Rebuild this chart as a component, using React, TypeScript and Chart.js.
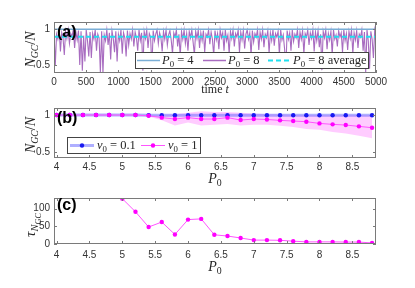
import React, { useEffect, useRef } from "react";
import { Chart, registerables } from "chart.js";
Chart.register(...registerables);

// ---------- DATA ----------
const T_STEP = 20; // time between samples of the P0 = 8 series
const P8_SERIES = [
  0.97, 0.50, 0.93, 0.86, 0.99, 0.69, 0.95, 0.88, 0.64, 0.97,
  0.87, 0.99, 0.80, 0.94, 0.90, 0.99, 0.74, 0.96, 0.85, 0.98,
  0.50, 0.97, 0.42, 0.91, 0.55, 0.99, 0.84, 0.62, 0.96, 0.60,
  0.94, 0.86, 0.99, 0.70, 0.93, 0.88, 0.40, 0.97, 0.38, 0.92,
  0.84, 0.99, 0.78, 0.95, 0.58, 0.98, 0.87, 0.68, 0.97, 0.55,
  0.93, 0.84, 0.99, 0.66, 0.95, 0.88, 0.62, 0.98, 0.78, 0.94,
  0.86, 0.99, 0.76, 0.96, 0.88, 0.70, 0.99, 0.84, 0.95, 0.42,
  0.97, 0.87, 0.99, 0.74, 0.94, 0.89, 0.45, 0.98, 0.84, 0.93,
  0.99, 0.80, 0.95, 0.88, 0.69, 0.97, 0.86, 0.99, 0.78, 0.92,
  0.98, 0.85, 0.66, 0.95, 0.89, 0.99, 0.76, 0.93, 0.62, 0.97,
  0.86, 0.99, 0.80, 0.94, 0.70, 0.97, 0.88, 0.99, 0.82, 0.64,
  0.97, 0.87, 0.99, 0.74, 0.95, 0.84, 0.98, 0.68, 0.93, 0.89,
  0.99, 0.79, 0.96, 0.86, 0.63, 0.98, 0.85, 0.94, 0.72, 0.99,
  0.88, 0.95, 0.70, 0.99, 0.84, 0.92, 0.66, 0.97, 0.87, 0.99,
  0.76, 0.94, 0.89, 0.99, 0.68, 0.96, 0.85, 0.98, 0.73, 0.93,
  0.99, 0.86, 0.95, 0.63, 0.98, 0.82, 0.94, 0.89, 0.99, 0.71,
  0.96, 0.86, 0.99, 0.75, 0.93, 0.88, 0.98, 0.67, 0.95, 0.84,
  0.99, 0.77, 0.94, 0.89, 0.97, 0.64, 0.99, 0.85, 0.92, 0.73,
  0.44, 0.98, 0.86, 0.95, 0.70, 0.99, 0.83, 0.93, 0.88, 0.99,
  0.74, 0.96, 0.86, 0.98, 0.66, 0.94, 0.89, 0.99, 0.78, 0.95,
  0.87, 0.99, 0.69, 0.96, 0.84, 0.98, 0.75, 0.93, 0.43, 0.97,
  0.88, 0.99, 0.72, 0.94, 0.85, 0.97, 0.64, 0.99, 0.86, 0.92,
  0.76, 0.98, 0.89, 0.95, 0.68, 0.99, 0.84, 0.94, 0.71, 0.97,
  0.87, 0.99, 0.66, 0.95, 0.85, 0.98, 0.74, 0.93, 0.89, 0.99,
  0.70, 0.96, 0.40, 0.99, 0.84, 0.45, 0.97, 0.86, 0.60, 0.99,
  0.90,
];
const P4_TIMES = [0, 5000];
const P4_SERIES = [1, 1];
const P8_AVERAGE = 0.893;
const TIME_TICKS = [0, 500, 1000, 1500, 2000, 2500, 3000, 3500, 4000, 4500, 5000];
const FRAC_TICKS = [0.5, 1];

const P0_VALUES = [4.0, 4.2, 4.4, 4.6, 4.8, 5.0, 5.2, 5.4, 5.6, 5.8, 6.0, 6.2, 6.4, 6.6, 6.8, 7.0, 7.2, 7.4, 7.6, 7.8, 8.0, 8.2, 8.4, 8.6, 8.8];
const V01_MEAN = [1, 1, 1, 1, 1, 1, 1, 0.997, 0.997, 0.997, 0.997, 0.997, 0.997, 0.997, 0.997, 0.997, 0.997, 0.997, 0.997, 0.997, 0.997, 0.997, 0.997, 0.997, 0.997];
const V1_MEAN = [1, 1, 1, 1, 1, 1, 1, 0.99, 0.965, 0.946, 0.965, 0.946, 0.946, 0.965, 0.932, 0.946, 0.94, 0.928, 0.919, 0.91, 0.887, 0.874, 0.865, 0.847, 0.829];
const V1_UPPER = [1, 1, 1, 1, 1, 1, 1, 1.0, 1.0, 1.01, 1.03, 1.05, 1.04, 1.04, 1.03, 1.02, 1.01, 1.01, 1.0, 1.0, 1.0, 1.0, 1.0, 1.0, 1.0];
const V1_LOWER = [1, 1, 1, 1, 1, 1, 1, 0.98, 0.93, 0.86, 0.9, 0.86, 0.87, 0.88, 0.86, 0.87, 0.87, 0.855, 0.84, 0.81, 0.8, 0.77, 0.75, 0.72, 0.685];
const TAU_NGC = [null, null, null, null, null, 128, 91, 48, 62, 27, 69, 71, 26, 22.5, 17, 11, 11, 10.5, 8, 6, 6, 6, 5.5, 5.5, 3];
const P0_TICKS = [4, 4.5, 5, 5.5, 6, 6.5, 7, 7.5, 8, 8.5];
const TAU_TICKS = [0, 50, 100];

// ---------- STYLE ----------
const SANS = '"Liberation Sans", Arial, Helvetica, sans-serif';
const SERIF = '"Liberation Serif", "DejaVu Serif", "Times New Roman", serif';
const PURPLE = "rgb(168,108,192)";
const LBLUE = "#7aaed6";
const CYAN = "#1fe0f0";
const BLUE_LINE = "rgba(110,110,255,0.55)";
const BLUE_PT = "#1818f0";
const MAG = "#ff00ff";
const MAG_LINE = "#ff55ff";
const BAND = "rgba(255,0,255,0.2)";
const AXIS = "#7a7a7a";
const TEXT = "#262626";

type Seg = { t: string; it?: boolean; lvl?: number };
function segFont(s: Seg, size: number) {
  const sz = s.lvl === 1 ? size * 0.7 : s.lvl === 2 ? size * 0.55 : size;
  return `${s.it ? "italic " : ""}${sz}px ${SERIF}`;
}
function segDy(s: Seg, size: number) {
  return s.lvl === 1 ? size * 0.22 : s.lvl === 2 ? size * 0.4 : 0;
}
function richWidth(ctx: CanvasRenderingContext2D, segs: Seg[], size: number) {
  let w = 0;
  for (const s of segs) {
    ctx.font = segFont(s, size);
    w += ctx.measureText(s.t).width;
  }
  return w;
}
function drawRich(ctx: CanvasRenderingContext2D, segs: Seg[], x: number, cy: number, size: number, center: boolean) {
  let cx = center ? x - richWidth(ctx, segs, size) / 2 : x;
  const base = cy + size * 0.33;
  ctx.textAlign = "left";
  ctx.textBaseline = "alphabetic";
  ctx.fillStyle = TEXT;
  for (const s of segs) {
    ctx.font = segFont(s, size);
    ctx.fillText(s.t, cx, base + segDy(s, size));
    cx += ctx.measureText(s.t).width;
  }
}
function drawRotated(ctx: CanvasRenderingContext2D, segs: Seg[], x: number, cy: number, size: number) {
  ctx.save();
  ctx.translate(x, cy);
  ctx.rotate(-Math.PI / 2);
  drawRich(ctx, segs, 0, 0, size, true);
  ctx.restore();
}
function panelLabel(ctx: CanvasRenderingContext2D, label: string, x: number, baseline: number) {
  ctx.save();
  ctx.font = `bold 16px ${SANS}`;
  ctx.fillStyle = "#000";
  ctx.textAlign = "left";
  ctx.textBaseline = "alphabetic";
  ctx.fillText(label, x, baseline);
  ctx.restore();
}

const NGC_TITLE: Seg[] = [{ t: "N", it: true }, { t: "GC", it: true, lvl: 1 }, { t: "/" }, { t: "N", it: true }];
const P0_TITLE: Seg[] = [{ t: "P", it: true }, { t: "0", lvl: 1 }];
const TAU_TITLE: Seg[] = [{ t: "τ", it: true }, { t: "N", it: true, lvl: 1 }, { t: "GC", it: true, lvl: 2 }];

const boxTicks = {
  id: "boxTicks",
  afterDatasetsDraw(chart: any) {
    const { ctx, chartArea: a, scales } = chart;
    const L = 3;
    ctx.save();
    ctx.strokeStyle = AXIS;
    ctx.lineWidth = 1;
    ctx.beginPath();
    for (const t of scales.x.ticks) {
      const px = Math.round(scales.x.getPixelForValue(t.value)) + 0.5;
      ctx.moveTo(px, a.bottom);
      ctx.lineTo(px, a.bottom - L);
      ctx.moveTo(px, a.top);
      ctx.lineTo(px, a.top + L);
    }
    for (const t of scales.y.ticks) {
      const py = Math.round(scales.y.getPixelForValue(t.value)) + 0.5;
      ctx.moveTo(a.left, py);
      ctx.lineTo(a.left + L, py);
      ctx.moveTo(a.right, py);
      ctx.lineTo(a.right - L, py);
    }
    ctx.stroke();
    ctx.strokeRect(Math.round(a.left) + 0.5, Math.round(a.top) + 0.5, Math.round(a.right - a.left) - 1, Math.round(a.bottom - a.top) - 1);
    ctx.restore();
  },
};

function axisX(min: number, max: number, ticks: number[], height: number, pad: number) {
  return {
    type: "linear",
    min,
    max,
    afterFit: (s: any) => {
      s.height = height;
    },
    afterBuildTicks: (s: any) => {
      s.ticks = ticks.map((v) => ({ value: v }));
    },
    ticks: { callback: (v: any) => String(v), font: { family: SANS, size: 10 }, color: "#333", padding: pad, maxRotation: 0, autoSkip: false },
    grid: { display: false, drawTicks: false },
    border: { display: false },
  };
}
function axisY(min: number, max: number, ticks: number[]) {
  return {
    type: "linear",
    min,
    max,
    afterFit: (s: any) => {
      s.width = 54;
    },
    afterBuildTicks: (s: any) => {
      s.ticks = ticks.map((v) => ({ value: v }));
    },
    ticks: { callback: (v: any) => String(v), font: { family: SANS, size: 10 }, color: "#333", padding: 4, autoSkip: false },
    grid: { display: false, drawTicks: false },
    border: { display: false },
  };
}
const baseOpts = {
  responsive: false,
  animation: false,
  devicePixelRatio: 1,
  events: [],
};

function configA(): any {
  const deco = {
    id: "decoA",
    afterDraw(chart: any) {
      const { ctx, chartArea: a } = chart;
      panelLabel(ctx, "(a)", 57, 36.5);
      drawRotated(ctx, NGC_TITLE, 30, (a.top + a.bottom) / 2 + 2, 14);
      drawRich(ctx, [{ t: "time " }, { t: "t", it: true }], (a.left + a.right) / 2, a.bottom + 16, 12, true);
      // legend
      ctx.save();
      const x0 = 135, y0 = 52, w = 233, h = 16;
      ctx.fillStyle = "#fff";
      ctx.fillRect(x0, y0, w, h);
      ctx.strokeStyle = "#444";
      ctx.lineWidth = 1;
      ctx.strokeRect(x0 + 0.5, y0 + 0.5, w, h);
      const cy = y0 + h / 2 + 0.5;
      const items = [
        { x: 137, color: LBLUE, dash: [] as number[], lw: 1.5, segs: [{ t: "P", it: true }, { t: "0", lvl: 1 }, { t: " = 4" }] },
        { x: 203, color: PURPLE, dash: [], lw: 1.5, segs: [{ t: "P", it: true }, { t: "0", lvl: 1 }, { t: " = 8" }] },
        { x: 268, color: CYAN, dash: [5, 3], lw: 2, segs: [{ t: "P", it: true }, { t: "0", lvl: 1 }, { t: " = 8 average" }] },
      ];
      for (const it of items) {
        ctx.strokeStyle = it.color;
        ctx.lineWidth = it.lw;
        ctx.setLineDash(it.dash);
        ctx.beginPath();
        ctx.moveTo(it.x, cy);
        ctx.lineTo(it.x + 23, cy);
        ctx.stroke();
        ctx.setLineDash([]);
        drawRich(ctx, it.segs as Seg[], it.x + 25, cy - 0.5, 12.5, false);
      }
      ctx.restore();
    },
  };
  return {
    type: "line",
    data: {
      datasets: [
        { data: [{ x: TIME_TICKS[0], y: P8_AVERAGE }, { x: TIME_TICKS[TIME_TICKS.length - 1], y: P8_AVERAGE }], borderColor: CYAN, borderWidth: 2, borderDash: [5, 3], pointRadius: 0 },
        { data: P4_TIMES.map((t, i) => ({ x: t, y: P4_SERIES[i] })), borderColor: LBLUE, borderWidth: 1.5, pointRadius: 0 },
        { data: P8_SERIES.map((v, i) => ({ x: i * T_STEP, y: v })), borderColor: PURPLE, borderWidth: 1.1, pointRadius: 0 },
      ],
    },
    options: {
      ...baseOpts,
      layout: { padding: { left: 0, right: 39, top: 22, bottom: 0 } },
      plugins: { legend: { display: false }, tooltip: { enabled: false } },
      scales: { x: axisX(0, 5000, TIME_TICKS, 23, 3), y: axisY(0.39, 1.1, FRAC_TICKS) },
    },
    plugins: [boxTicks, deco],
  };
}

function configB(): any {
  const deco = {
    id: "decoB",
    afterDraw(chart: any) {
      const { ctx, chartArea: a } = chart;
      panelLabel(ctx, "(b)", 57, 122.5 - 96);
      drawRotated(ctx, NGC_TITLE, 30, (a.top + a.bottom) / 2 + 2, 14);
      drawRich(ctx, P0_TITLE, (a.left + a.right) / 2, a.bottom + 20, 14, true);
      ctx.save();
      const x0 = 67, y0 = 137 - 96, w = 133, h = 16;
      ctx.fillStyle = "#fff";
      ctx.fillRect(x0, y0, w, h);
      ctx.strokeStyle = "#444";
      ctx.lineWidth = 1;
      ctx.strokeRect(x0 + 0.5, y0 + 0.5, w, h);
      const cy = y0 + h / 2 + 0.5;
      const items = [
        { x: 70, line: BLUE_LINE, lw: 3, pt: BLUE_PT, segs: [{ t: "v", it: true }, { t: "0", lvl: 1 }, { t: " = 0.1" }] },
        { x: 141, line: MAG_LINE, lw: 1, pt: MAG, segs: [{ t: "v", it: true }, { t: "0", lvl: 1 }, { t: " = 1" }] },
      ];
      for (const it of items) {
        ctx.strokeStyle = it.line;
        ctx.lineWidth = it.lw;
        ctx.beginPath();
        ctx.moveTo(it.x, cy);
        ctx.lineTo(it.x + 24, cy);
        ctx.stroke();
        ctx.fillStyle = it.pt;
        ctx.beginPath();
        ctx.arc(it.x + 12, cy, 2.2, 0, Math.PI * 2);
        ctx.fill();
        drawRich(ctx, it.segs as Seg[], it.x + 27, cy - 0.5, 12.5, false);
      }
      ctx.restore();
    },
  };
  const pts = (arr: number[]) => P0_VALUES.map((x, i) => ({ x, y: arr[i] }));
  return {
    type: "line",
    data: {
      datasets: [
        { data: pts(V1_MEAN), borderColor: MAG_LINE, borderWidth: 1, pointRadius: 2.2, pointBackgroundColor: MAG, pointBorderWidth: 0 },
        { data: pts(V01_MEAN), borderColor: BLUE_LINE, borderWidth: 3, pointRadius: 2.2, pointBackgroundColor: BLUE_PT, pointBorderWidth: 0 },
        { data: pts(V1_UPPER), borderWidth: 0, pointRadius: 0, borderColor: "rgba(0,0,0,0)" },
        { data: pts(V1_LOWER), borderWidth: 0, pointRadius: 0, borderColor: "rgba(0,0,0,0)", fill: "-1", backgroundColor: BAND },
      ],
    },
    options: {
      ...baseOpts,
      layout: { padding: { left: 0, right: 39, top: 12, bottom: 0 } },
      plugins: { legend: { display: false }, tooltip: { enabled: false } },
      scales: { x: axisX(3.96, 8.86, P0_TICKS, 28, 3.5), y: axisY(0.42, 1.095, FRAC_TICKS) },
    },
    plugins: [boxTicks, deco],
  };
}

function configC(): any {
  const deco = {
    id: "decoC",
    afterDraw(chart: any) {
      const { ctx, chartArea: a } = chart;
      panelLabel(ctx, "(c)", 57, 209.5 - 186);
      drawRotated(ctx, TAU_TITLE, 30, (a.top + a.bottom) / 2 + 4, 15);
      drawRich(ctx, P0_TITLE, (a.left + a.right) / 2, a.bottom + 22, 14, true);
    },
  };
  return {
    type: "line",
    data: {
      datasets: [
        { data: P0_VALUES.map((x, i) => ({ x, y: TAU_NGC[i] })), borderColor: MAG_LINE, borderWidth: 1, pointRadius: 2.2, pointBackgroundColor: MAG, pointBorderWidth: 0 },
      ],
    },
    options: {
      ...baseOpts,
      layout: { padding: { left: 0, right: 39, top: 12, bottom: 0 } },
      plugins: { legend: { display: false }, tooltip: { enabled: false } },
      scales: { x: axisX(3.96, 8.86, P0_TICKS, 44, 5.5), y: axisY(0, 130, TAU_TICKS) },
    },
    plugins: [boxTicks, deco],
  };
}

export default function App() {
  const refA = useRef<HTMLCanvasElement>(null);
  const refB = useRef<HTMLCanvasElement>(null);
  const refC = useRef<HTMLCanvasElement>(null);
  useEffect(() => {
    const charts = [
      new Chart(refA.current as HTMLCanvasElement, configA()),
      new Chart(refB.current as HTMLCanvasElement, configB()),
      new Chart(refC.current as HTMLCanvasElement, configC()),
    ];
    return () => charts.forEach((c) => c.destroy());
  }, []);
  return (
    <div style={{ position: "fixed", left: 0, top: 0, width: 415, height: 288, background: "#fff", overflow: "hidden" }}>
      <canvas ref={refA} width={415} height={96} style={{ position: "absolute", left: 0, top: 0, width: 415, height: 96 }} />
      <canvas ref={refB} width={415} height={90} style={{ position: "absolute", left: 0, top: 96, width: 415, height: 90 }} />
      <canvas ref={refC} width={415} height={102} style={{ position: "absolute", left: 0, top: 186, width: 415, height: 102 }} />
    </div>
  );
}
